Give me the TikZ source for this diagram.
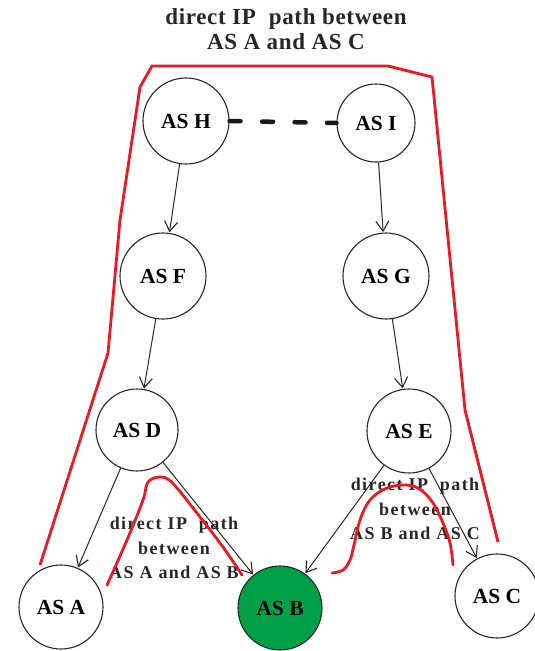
\documentclass[tikz,border=0pt]{standalone}
\usepackage{fontspec}
\setmainfont{Liberation Serif}
\newfontfamily\spacedfont[LetterSpace=8]{Liberation Serif}
\newfontfamily\titlefont[LetterSpace=3]{Liberation Serif}
\usetikzlibrary{arrows.meta}
\definecolor{asgreen}{RGB}{0,160,72}
\definecolor{pathred}{RGB}{235,25,35}
\tikzset{
  asnode/.style={circle,draw=black!85,line width=1.1pt,minimum size=84pt,inner sep=0pt,
    font=\fontsize{21.5}{22}\selectfont\bfseries},
  edgearrow/.style={draw=black!85,line width=1pt,-{Straight Barb[length=10pt,width=13pt,line width=1.1pt]},shorten >=0.5pt},
  redline/.style={draw=pathred,line width=2.8pt,line join=miter},
  intext/.style={align=center,font=\spacedfont\fontsize{18}{24.5}\selectfont\bfseries,text=black!85,inner sep=0pt},
  titletext/.style={align=center,font=\titlefont\fontsize{23}{25}\selectfont\bfseries,text=black!85,inner sep=0pt}
}
\begin{document}
\begin{tikzpicture}[x=1pt,y=-1pt]
\useasboundingbox (0,0) rectangle (535,651);
% nodes
\node[asnode,minimum size=86pt] (asH) at (186,121) {AS H};
\node[asnode,minimum size=78pt] (asI) at (376,123) {AS I};
\node[asnode,minimum size=86pt] (asF) at (163,276) {AS F};
\node[asnode,minimum size=86pt] (asG) at (386,276) {AS G};
\node[asnode,minimum size=82pt] (asD) at (137,430) {AS D};
\node[asnode,minimum size=84pt] (asE) at (409,431) {AS E};
\node[asnode] (asA) at (61,607) {AS A};
\node[asnode,fill=asgreen] (asB) at (280,608) {AS B};
\node[asnode] (asC) at (497,596) {AS C};
% title
\node[titletext] (title) at (286,29) {direct IP\ \ path between\\AS A and AS C};
% inner labels
\node[intext] (labAB) at (174,548) {direct IP\ \ path\\between\\AS A and AS B};
\node[intext] (labBC) at (415,509) {direct IP\ \ path\\between\\AS B and AS C};
% dashed link
\draw[line width=4.5pt,line cap=round,dash pattern=on 11pt off 21.5pt,black!90] (asH.east) -- (asI.west);
% arrows
\draw[edgearrow] (asH) -- (asF);
\draw[edgearrow] (asI) -- (asG);
\draw[edgearrow] (asF) -- (asD);
\draw[edgearrow] (asG) -- (asE);
\draw[edgearrow] (asD) -- (asA);
\draw[edgearrow] (asD) -- (asB);
\draw[edgearrow] (asE) -- (asB);
\draw[edgearrow] (asE) -- (asC);
% red paths
\draw[redline] (40,565) -- (108,353) -- (120,220) -- (140,87) -- (152,66) -- (388,66) -- (432,77) -- (465,410) -- (498,542);
\draw[redline,line cap=round] plot[smooth,tension=0.6] coordinates {(107,585) (127,540) (143,500) (147,484) (154,478) (166,478) (177,488) (200,517) (223,547) (242,575)};
\draw[redline,line cap=round] plot[smooth,tension=0.6] coordinates {(332,573) (343,570) (350,560) (354,545) (360,520) (370,500) (387,488) (407,485) (421,490) (433,503) (443,523) (450,543) (453,565)};
\end{tikzpicture}
\end{document}
